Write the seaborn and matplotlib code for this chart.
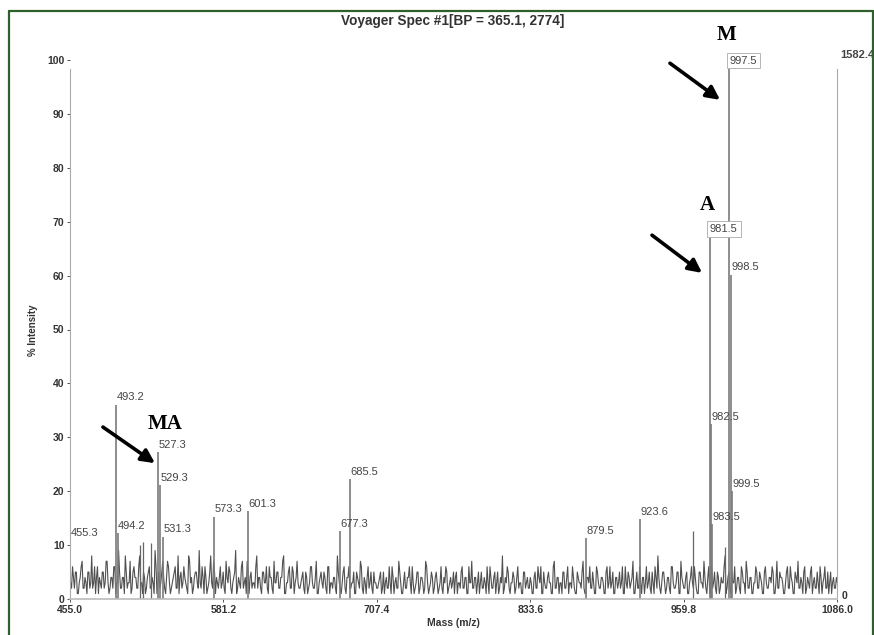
import numpy as np
import pandas as pd
import matplotlib
matplotlib.use("Agg")
import matplotlib.pyplot as plt
from matplotlib.lines import Line2D
import seaborn as sns

# ---- spectrum data -------------------------------------------------------
title = "Voyager Spec #1[BP = 365.1, 2774]"
x_ticks = [455.0, 581.2, 707.4, 833.6, 959.8, 1086.0]
y_ticks = [0, 10, 20, 30, 40, 50, 60, 70, 80, 90, 100]
abs_top_label = "1582.4"

# labelled peaks (m/z, % intensity)
peak_mz = [455.3, 493.2, 494.2, 527.3, 529.3, 531.3, 573.3, 601.3, 677.3,
           685.5, 879.5, 923.6, 981.5, 982.5, 983.5, 997.5, 998.5, 999.5]
peak_int = [10.9, 36.0, 12.2, 27.2, 21.1, 11.5, 15.3, 16.3, 12.6,
            22.2, 11.3, 14.8, 67.0, 32.4, 13.9, 98.3, 60.2, 20.0]
boxed_peaks = [981.5, 997.5]

# unlabelled minor spikes
minor_mz = [512.6, 515.0, 522.0, 967.5, 994.0]
minor_int = [10.0, 10.5, 10.3, 12.6, 9.6]

# baseline noise trace (% intensity), two interleaved sampling passes
noise_a = [
    3, 6, 2, 5, 1, 4, 7, 2, 3, 5, 2, 8, 3, 1, 6, 4, 2, 5, 3, 7, 1, 4, 2, 6, 3, 9, 2, 4, 1, 5, 3, 7, 2, 6, 4, 2, 8, 3, 5, 1,
    4, 6, 2, 3, 9, 1, 5, 3, 7, 2, 4, 6, 1, 3, 5, 2, 8, 4, 2, 6, 3, 1, 7, 4, 2, 5, 3, 9, 2, 4, 6, 1, 3, 8, 2, 5, 4, 2, 6, 3,
    2, 7, 3, 5, 1, 4, 9, 2, 3, 6, 2, 4, 7, 1, 5, 3, 2, 8, 4, 2, 5, 3, 6, 1, 4, 2, 7, 3, 5, 2, 4, 8, 1, 3, 6, 2, 5, 3, 7, 2,
    3, 5, 1, 4, 2, 6, 3, 2, 7, 1, 4, 3, 5, 2, 6, 1, 3, 4, 2, 8, 3, 1, 5, 2, 4, 6, 2, 3, 1, 5, 3, 7, 2, 4, 1, 6, 3, 2, 5, 3,
    2, 4, 1, 5, 3, 2, 6, 1, 4, 3, 2, 7, 3, 1, 5, 2, 4, 3, 6, 1, 3, 5, 2, 4, 1, 7, 3, 2, 5, 1, 4, 3, 2, 6, 1, 3, 5, 2, 4, 3,
    1, 5, 3, 2, 6, 2, 4, 1, 3, 7, 2, 4, 3, 1, 5, 2, 3, 6, 1, 4, 2, 5, 3, 1, 4, 8, 2, 3, 5, 1, 3, 4, 2, 6, 3, 1, 5, 2, 4, 2,
    3, 1, 5, 2, 4, 6, 1, 3, 2, 5, 3, 1, 7, 2, 4, 3, 1, 5, 2, 6, 3, 2, 4, 1, 5, 3, 2, 7, 1, 4, 3, 2, 5, 1, 6, 3, 2, 4, 1, 5,
    2, 6, 3, 1, 4, 2, 5, 3, 1, 6, 2, 4, 3, 7, 1, 5, 2, 3, 4, 1, 6, 3, 2, 5, 1, 4, 8, 2, 3, 5, 1, 4, 2, 6, 3, 2, 5, 1, 7, 3,
    2, 5, 1, 4, 3, 6, 2, 1, 5, 3, 7, 2, 4, 1, 6, 3, 2, 5, 1, 4, 3, 8, 2, 5, 1, 3, 6, 2, 4, 1, 5, 3, 7, 2, 4, 1, 3, 6, 2, 5,
    3, 1, 6, 2, 4, 3, 5, 1, 7, 2, 4, 3, 1, 5, 2, 6, 3, 1, 4, 7, 2, 3, 5, 1, 4, 2, 6, 3, 2, 5, 1, 4, 3, 6, 2, 1, 5, 3, 2, 4,
]
noise_b = [
    2, 4, 5, 1, 3, 6, 2, 4, 1, 5, 3, 2, 6, 4, 1, 3, 5, 2, 7, 3, 2, 4, 6, 1, 3, 5, 2, 4, 8, 2, 3, 1, 5, 4, 2, 6, 3, 1, 4, 2,
    5, 2, 4, 1, 6, 3, 2, 5, 4, 1, 7, 3, 2, 4, 6, 2, 1, 5, 3, 4, 2, 8, 3, 1, 4, 5, 2, 3, 6, 1, 4, 2, 5, 3, 7, 1, 3, 4, 2, 5,
    1, 4, 6, 2, 3, 5, 1, 4, 2, 7, 3, 1, 5, 4, 2, 3, 6, 2, 4, 1, 5, 3, 2, 6, 4, 1, 3, 5, 2, 4, 7, 1, 3, 5, 2, 6, 1, 4, 3, 2,
    4, 2, 5, 1, 3, 6, 2, 4, 1, 3, 5, 2, 4, 1, 6, 3, 2, 4, 1, 5, 2, 3, 6, 1, 4, 2, 3, 5, 1, 4, 2, 6, 1, 3, 4, 2, 5, 1, 3, 2,
    3, 5, 2, 1, 4, 2, 3, 6, 1, 4, 2, 5, 1, 3, 2, 4, 6, 1, 3, 2, 5, 1, 4, 3, 2, 6, 1, 3, 4, 2, 5, 1, 3, 2, 4, 6, 1, 3, 2, 5,
    4, 1, 3, 5, 2, 4, 1, 6, 3, 2, 4, 1, 5, 3, 2, 4, 1, 3, 6, 2, 4, 1, 5, 2, 3, 1, 4, 6, 2, 3, 5, 1, 4, 2, 3, 1, 5, 3, 2, 4,
    1, 4, 2, 6, 3, 1, 5, 2, 4, 3, 1, 6, 2, 4, 1, 3, 5, 2, 4, 1, 3, 6, 2, 1, 4, 3, 5, 2, 1, 4, 6, 2, 3, 1, 5, 2, 4, 3, 1, 6,
    3, 2, 5, 1, 4, 3, 2, 6, 1, 3, 5, 2, 4, 1, 3, 2, 6, 1, 4, 3, 2, 5, 1, 3, 6, 2, 4, 1, 5, 3, 2, 4, 1, 6, 2, 3, 5, 1, 4, 2,
    4, 1, 3, 6, 2, 4, 1, 5, 3, 2, 4, 1, 6, 3, 2, 5, 1, 4, 2, 3, 6, 1, 4, 2, 5, 3, 1, 4, 2, 6, 3, 1, 5, 2, 4, 1, 3, 5, 2, 4,
    1, 5, 3, 2, 4, 6, 1, 3, 2, 5, 4, 1, 3, 6, 2, 4, 1, 5, 3, 2, 4, 1, 6, 2, 3, 5, 1, 4, 2, 3, 6, 1, 4, 2, 5, 3, 1, 4, 2, 3,
]

# species markers: (label, text position, arrow tail, arrow head) in data units
species = ["M", "A", "MA"]
species_text = [(995.5, 104.6), (979.1, 73.1), (533.2, 32.5)]
arrow_tail = [(948.6, 99.4), (933.8, 67.5), (482.1, 31.9)]
arrow_head = [(989.8, 92.6), (975.0, 60.5), (524.9, 25.2)]

# ---- style ---------------------------------------------------------------
sns.set_theme(style="white")
plt.rcParams["font.family"] = ["Liberation Sans", "DejaVu Sans"]

W, H = 874, 635
fig = plt.figure(figsize=(W / 100, H / 100), dpi=100)
x0, x1 = 70, 837
y0, y100 = 599, 60
ax = fig.add_axes([x0 / W, 1 - y0 / H, (x1 - x0) / W, (y0 - y100) / H])

xmin, xmax = x_ticks[0], x_ticks[-1]
step = (xmax - xmin - 1.0) / (len(noise_a) - 1)
grid_a = np.linspace(xmin + 0.5, xmax - 0.5, len(noise_a))
noise_df = pd.DataFrame({
    "mz": np.concatenate([grid_a, grid_a + step / 2]),
    "intensity": noise_a + noise_b,
}).sort_values("mz")
sns.lineplot(data=noise_df, x="mz", y="intensity", ax=ax, color="#505050",
             lw=0.8, estimator=None, sort=True, legend=False)

ax.vlines(minor_mz, 0, minor_int, color="#666666", lw=0.9)
ax.vlines(peak_mz, 0, peak_int, color="#7a7a7a", lw=1.2)

label_color = "#444444"
for mz, h in zip(peak_mz, peak_int):
    txt = f"{mz:.1f}"
    if mz in boxed_peaks:
        ax.text(mz, h + 1.6, txt, ha="left", va="center", fontsize=8,
                color=label_color, zorder=5,
                bbox=dict(boxstyle="square,pad=0.25", fc="white",
                          ec="#aaaaaa", lw=0.6))
    else:
        ax.text(mz + 0.4, h + 1.4, txt, ha="left", va="center",
                fontsize=8, color=label_color)

for lab, tpos, tail, head in zip(species, species_text, arrow_tail, arrow_head):
    ax.text(tpos[0], tpos[1], lab, ha="center", va="center", fontsize=15,
            fontweight="bold", family=["Liberation Serif", "DejaVu Serif"],
            color="black", clip_on=False)
    ax.annotate("", xy=head, xytext=tail, xycoords="data",
                arrowprops=dict(arrowstyle="-|>", lw=2.6, color="black",
                                mutation_scale=20, shrinkA=0, shrinkB=0),
                annotation_clip=False)

ax.set_xlim(xmin, xmax)
ax.set_ylim(0, 100)
ax.set_xticks(x_ticks)
ax.set_xticklabels([f"{v:.1f}" for v in x_ticks])
ax.set_yticks(y_ticks)
ax.tick_params(axis="both", labelsize=7.5, colors="#333333", length=2,
               width=0.6, pad=2, direction="out", bottom=True, left=True)
for t in ax.get_xticklabels() + ax.get_yticklabels():
    t.set_fontweight("bold")
ax.set_xlabel("")
ax.set_ylabel("")

for side in ["left", "right", "bottom"]:
    ax.spines[side].set_visible(True)
    ax.spines[side].set_color("#aaaaaa")
    ax.spines[side].set_linewidth(0.8)
ax.spines["top"].set_visible(False)
ax.spines["left"].set_bounds(0, 98.3)
ax.spines["right"].set_bounds(0, 98.3)
ax.spines["bottom"].set_color("#bbbbbb")
ax.spines["bottom"].set_linewidth(1.2)

# absolute-intensity scale on the right edge
ax.annotate(abs_top_label, xy=(xmax, 100.9), xytext=(2, 0),
            textcoords="offset points", ha="left", va="center",
            fontsize=8, fontweight="bold", color="#444444",
            annotation_clip=False)
ax.annotate("0", xy=(xmax, 0.5), xytext=(3, 0), textcoords="offset points",
            ha="left", va="center", fontsize=7.5, fontweight="bold",
            color="#333333", annotation_clip=False)

fig.text(453 / W, 1 - 21 / H, title, ha="center", va="center", fontsize=9.8,
         fontweight="bold", color="#333333")
fig.text(33 / W, 1 - 330 / H, "% Intensity", ha="center", va="center",
         rotation=90, fontsize=7, fontweight="bold", color="#333333")
fig.text(453 / W, 1 - 623 / H, "Mass (m/z)", ha="center", va="center",
         fontsize=7.5, fontweight="bold", color="#333333")

# dark green frame around the page
green = "#2f5f2a"
fig.add_artist(Line2D([8.5 / W, 8.5 / W], [0, 1 - 10.7 / H], color=green,
                      lw=1.6, transform=fig.transFigure))
fig.add_artist(Line2D([8.5 / W, 872.5 / W], [1 - 10.7 / H, 1 - 10.7 / H],
                      color=green, lw=1.6, transform=fig.transFigure))
fig.add_artist(Line2D([872.5 / W, 872.5 / W], [0, 1 - 10.7 / H], color=green,
                      lw=1.6, transform=fig.transFigure))

fig.savefig("out.png", dpi=100, facecolor="white")
